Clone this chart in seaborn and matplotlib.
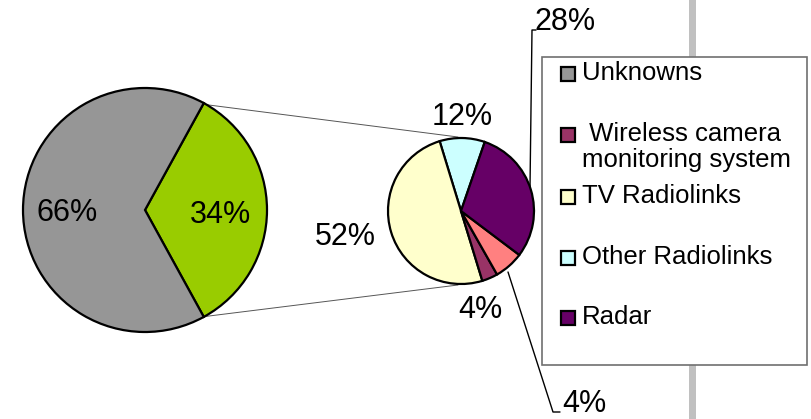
import matplotlib
matplotlib.use("Agg")
import matplotlib.pyplot as plt
from matplotlib.patches import Rectangle
import seaborn as sns

sns.set_theme(style="white")
plt.rcParams['font.family'] = ['Liberation Sans', 'DejaVu Sans']
plt.rcParams['text.color'] = 'black'

# ---- data ----
main_labels = ["Unknowns", "Identified"]
main_values = [66, 34]
main_pct = ["66%", "34%"]

sub_labels = ["Other Radiolinks", "TV Radiolinks", "Wireless camera monitoring system", "Other", "Radar"]
sub_values = [10, 50, 3.5, 6.5, 30]
sub_pct = ["12%", "52%", "4%", "4%", "28%"]

legend_labels = ["Unknowns", " Wireless camera\nmonitoring system", "TV Radiolinks", "Other Radiolinks", "Radar"]

main_colors = ["#969696", "#99cc00"]
sub_colors = ["#ccffff", "#ffffcc", "#993366", "#ff8080", "#660066"]
legend_colors = ["#969696", "#993366", "#ffffcc", "#ccffff", "#660066"]

W, H = 812, 419
fig = plt.figure(figsize=(W / 100, H / 100), dpi=100)
ax = fig.add_axes([0, 0, 1, 1])

def Y(y):
    return H - y

# background gray bar
ax.add_patch(Rectangle((689, 0), 7, H, facecolor="#c0c0c0", edgecolor="none", zorder=0))

wp = dict(edgecolor="black", linewidth=1.6)
# big pie: green (34%) first, centred on the right
ax.pie(main_values[::-1], colors=main_colors[::-1], startangle=-61.2, counterclock=True,
       center=(145, Y(210)), radius=122, wedgeprops=wp)
ax.pie(sub_values, colors=sub_colors, startangle=71, counterclock=True,
       center=(461, Y(211)), radius=73, wedgeprops=wp)

# connecting lines
ax.plot([201, 458], [Y(104), Y(137)], color="#555555", lw=0.7, zorder=0.5)
ax.plot([201, 458], [Y(317), Y(285)], color="#555555", lw=0.7, zorder=0.5)

fs = 22
ax.text(67, Y(213), main_pct[0], fontsize=fs, ha="center", va="center")
ax.text(220, Y(215), main_pct[1], fontsize=fs, ha="center", va="center")
ax.text(462, Y(117), sub_pct[0], fontsize=fs, ha="center", va="center")
ax.text(345, Y(237), sub_pct[1], fontsize=fs, ha="center", va="center")
ax.text(480, Y(310), sub_pct[2], fontsize=fs, ha="center", va="center")
ax.text(562, Y(404), sub_pct[3], fontsize=fs, ha="left", va="center")
ax.text(535, Y(22), sub_pct[4], fontsize=fs, ha="left", va="center")

# leader lines
ax.plot([530, 532, 536], [Y(187), Y(30), Y(30)], color="black", lw=1.0)
ax.plot([508, 553, 560], [Y(272), Y(412), Y(412)], color="black", lw=1.0)

# legend box
ax.add_patch(Rectangle((542, Y(365)), 265, 308, facecolor="white", edgecolor="#707070",
                       linewidth=1.2, zorder=3))
rows = [74, 135, 197, 258, 318]
for lab, col, ry in zip(legend_labels, legend_colors, rows):
    ax.add_patch(Rectangle((561, Y(ry) - 7), 14, 14, facecolor=col, edgecolor="black",
                           linewidth=1.6, zorder=4))
    ax.text(582, Y(ry) + 13, lab, fontsize=18.5, ha="left", va="top", zorder=5,
            linespacing=1.1)

ax.set_xlim(0, W)
ax.set_ylim(0, H)
ax.set_aspect("auto")
ax.axis("off")
fig.savefig("out.png", dpi=100)
